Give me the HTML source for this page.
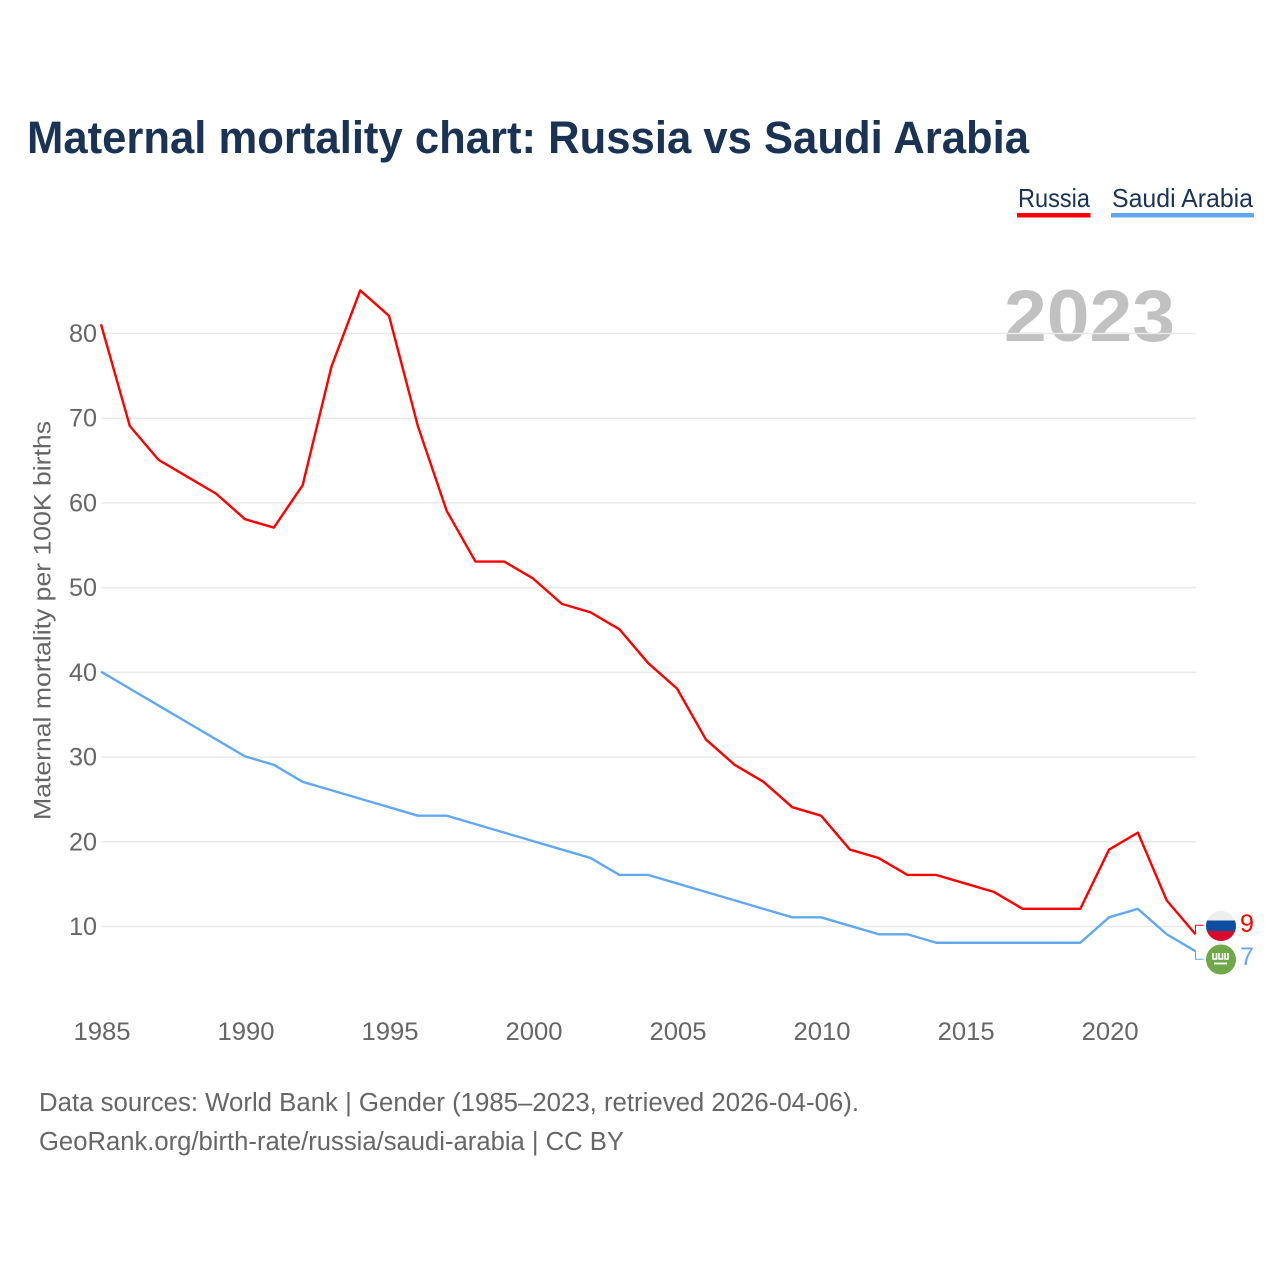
<!DOCTYPE html>
<html lang="en">
<head>
<meta charset="utf-8">
<title>Maternal mortality chart: Russia vs Saudi Arabia</title>
<style>
html,body{margin:0;padding:0;background:#fff;}
svg{display:block;}
text{font-family:"Liberation Sans",sans-serif;}
</style>
</head>
<body>
<svg id="chart" xmlns="http://www.w3.org/2000/svg" width="1280" height="1280" viewBox="0 0 1280 1280">
  <rect width="1280" height="1280" fill="#fff"/>
  <text x="27" y="153" font-size="45" font-weight="700" fill="#1a3354" textLength="1002" lengthAdjust="spacingAndGlyphs">Maternal mortality chart: Russia vs Saudi Arabia</text>

  <g>
    <text x="1018" y="207" font-size="26" fill="#1a3354" textLength="72" lengthAdjust="spacingAndGlyphs">Russia</text>
    <rect x="1017" y="213" width="73.5" height="4.5" fill="#ff0000"/>
  </g>
  <g>
    <text x="1112" y="207" font-size="26" fill="#1a3354" textLength="141" lengthAdjust="spacingAndGlyphs">Saudi Arabia</text>
    <rect x="1111" y="213" width="143" height="4.5" fill="#62a8ee"/>
  </g>

  <text x="1004" y="341" font-size="73" font-weight="700" fill="#c1c1c1" textLength="171" lengthAdjust="spacingAndGlyphs">2023</text>

  <g id="grid"></g>
  <g id="yticks"></g>
  <g id="xticks"></g>

  <text transform="translate(50.5,820) rotate(-90)" x="0" y="0" font-size="24" fill="#666" textLength="399" lengthAdjust="spacingAndGlyphs">Maternal mortality per 100K births</text>

  <g id="series" transform="translate(-0.5,-0.7)"></g>

  <g id="endmarks">
    <defs>
      <clipPath id="ru-clip"><circle cx="1221" cy="926" r="15"/></clipPath>
    </defs>
    <g clip-path="url(#ru-clip)">
      <rect x="1206" y="911" width="30" height="9.5" fill="#eeeeee"/>
      <rect x="1206" y="920.5" width="30" height="10.5" fill="#0b4ea2"/>
      <rect x="1206" y="931" width="30" height="10" fill="#d80b2c"/>
    </g>
    <g>
      <circle cx="1221" cy="959.5" r="15" fill="#6fa848"/>
      <path d="M1213 953v6h3.5v-6m2.5 0v6h3.5v-6m2.5 0v6h3v-6" fill="none" stroke="#fff" stroke-width="1.6"/>
      <path d="M1214 963.5h13" stroke="#fff" stroke-width="1.8"/>
    </g>
    <text x="1240" y="932" font-size="25" fill="#ff0000">9</text>
    <text x="1240" y="965" font-size="25" fill="#62a8ee">7</text>
  </g>

  <text x="39" y="1111" font-size="25.5" fill="#666" textLength="820" lengthAdjust="spacingAndGlyphs">Data sources: World Bank | Gender (1985–2023, retrieved 2026-04-06).</text>
  <a><text x="39" y="1150" font-size="25.5" fill="#666" textLength="585" lengthAdjust="spacingAndGlyphs">GeoRank.org/birth-rate/russia/saudi-arabia | CC BY</text></a>
</svg>

<script>
const years = [1985,1986,1987,1988,1989,1990,1991,1992,1993,1994,1995,1996,1997,1998,1999,2000,2001,2002,2003,2004,2005,2006,2007,2008,2009,2010,2011,2012,2013,2014,2015,2016,2017,2018,2019,2020,2021,2022,2023];
const russiaValues = [81,69,65,63,61,58,57,62,76,85,82,69,59,53,53,51,48,47,45,41,38,32,29,27,24,23,19,18,16,16,15,14,12,12,12,19,21,13,9];
const saudiValues = [40,38,36,34,32,30,29,27,26,25,24,23,23,22,21,20,19,18,16,16,15,14,13,12,11,11,10,9,9,8,8,8,8,8,8,11,12,9,7];
const yTickValues = [10,20,30,40,50,60,70,80];
const xTickValues = [1985,1990,1995,2000,2005,2010,2015,2020];

const SVG_NS = 'http://www.w3.org/2000/svg';
const xScale = function (year) { return 101.5 + (year - 1985) * (1196 - 101.5) / 38; };
const yScale = function (value) { return 926.5 - (value - 10) * (926.5 - 333.5) / 70; };

function make(tag, attrs, parent) {
  const el = document.createElementNS(SVG_NS, tag);
  Object.keys(attrs).forEach(function (k) { el.setAttribute(k, attrs[k]); });
  parent.appendChild(el);
  return el;
}

const grid = document.getElementById('grid');
const yticks = document.getElementById('yticks');
yTickValues.forEach(function (v) {
  const line = make('line', {x1: 101.5, x2: 1196, y1: yScale(v), y2: yScale(v), stroke: '#e9e9e9', 'stroke-width': 1.5}, grid);
  
  
  const label = make('text', {x: 97, y: yScale(v) + 8.5, 'text-anchor': 'end', 'font-size': 25, fill: '#666', textLength: 28, lengthAdjust: 'spacingAndGlyphs'}, yticks);
  
  
  label.textContent = String(v);
});

const xticks = document.getElementById('xticks');
xTickValues.forEach(function (y) {
  const label = make('text', {x: xScale(y) - 28, y: 1040, 'font-size': 25, fill: '#666', textLength: 57, lengthAdjust: 'spacingAndGlyphs'}, xticks);
  
  
  label.textContent = String(y);
});

const series = document.getElementById('series');
function pointsFor(values) {
  return values.map(function (v, i) { return xScale(years[i]).toFixed(2) + ',' + yScale(v).toFixed(2); }).join(' ');
}

const saudiLine = make('polyline', {points: pointsFor(saudiValues), fill: 'none', stroke: '#62a8ee', 'stroke-width': 2.4, 'stroke-linejoin': 'round'}, series);



const russiaLine = make('polyline', {points: pointsFor(russiaValues), fill: 'none', stroke: '#ff0000', 'stroke-width': 2.4, 'stroke-linejoin': 'round'}, series);



const lastIndex = years.length - 1;
const lastX = xScale(years[lastIndex]);
const russiaConnector = make('polyline', {points: lastX + ',' + yScale(russiaValues[lastIndex]) + ' ' + lastX + ',926 1204,926', fill: 'none', stroke: '#ff0000', 'stroke-width': 1}, series);



const saudiConnector = make('polyline', {points: lastX + ',' + yScale(saudiValues[lastIndex]) + ' ' + lastX + ',960 1204,960', fill: 'none', stroke: '#62a8ee', 'stroke-width': 1}, series);


</script>
</body>
</html>
